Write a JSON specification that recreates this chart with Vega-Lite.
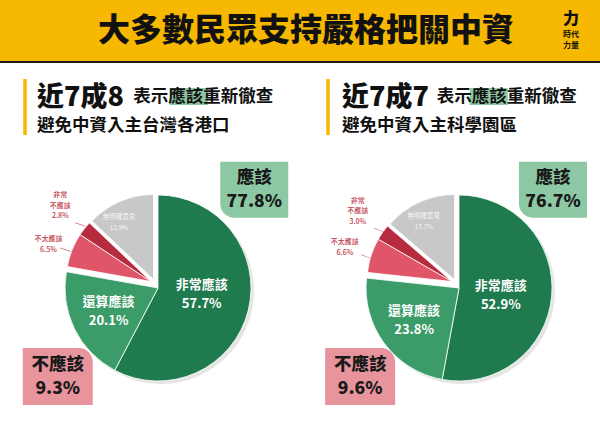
{
  "$schema": "https://vega.github.io/schema/vega-lite/v6.json",
  "padding": 0,
  "background": "#ffffff",
  "spacing": 0,
  "bounds": "flush",
  "config": {"view": {"stroke": null}, "font": "Noto Sans CJK TC"},
  "datasets": {
    "portSlices": [
      {"cat": "非常應該", "pct": 57.7, "k": 1},
      {"cat": "還算應該", "pct": 20.1, "k": 2},
      {"cat": "不太應該", "pct": 6.5, "k": 3},
      {"cat": "非常不應該", "pct": 2.8, "k": 4},
      {"cat": "無明確意見", "pct": 12.9, "k": 5}
    ],
    "portMarks": [
      {"grp": "應該", "yk": "應該", "pct": 77.8},
      {"grp": "不應該", "yk": "不應該", "pct": 9.3},
      {"grp": "hl", "yk": "hl", "txt": "表示應該重新徹查"},
      {"grp": "bar", "yk": "hl"}
    ],
    "sciSlices": [
      {"cat": "非常應該", "pct": 52.9, "k": 1},
      {"cat": "還算應該", "pct": 23.8, "k": 2},
      {"cat": "不太應該", "pct": 6.6, "k": 3},
      {"cat": "非常不應該", "pct": 3.0, "k": 4},
      {"cat": "無明確意見", "pct": 13.7, "k": 5}
    ],
    "sciMarks": [
      {"grp": "應該", "yk": "應該", "pct": 76.7},
      {"grp": "不應該", "yk": "不應該", "pct": 9.6},
      {"grp": "hl", "yk": "hl", "txt": "表示應該重新徹查"},
      {"grp": "bar", "yk": "hl"}
    ]
  },
  "vconcat": [
    {
      "width": 600,
      "height": 61,
      "view": {"fill": "#F6B800", "stroke": null},
      "title": {
        "text": "力",
        "subtitle": ["時代", "力量"],
        "orient": "top",
        "anchor": "end",
        "align": "center",
        "frame": "group",
        "dx": -29,
        "offset": -50,
        "fontSize": 16,
        "fontWeight": 900,
        "color": "#111111",
        "subtitleFontSize": 8,
        "subtitleFontWeight": "bold",
        "subtitleColor": "#111111",
        "subtitlePadding": 4,
        "subtitleLineHeight": 11
      },
      "data": {"values": [{"t": "大多數民眾支持嚴格把關中資"}]},
      "mark": {"type": "text", "fontSize": 32, "fontWeight": 900, "color": "#111111", "dx": 6, "baseline": "middle", "align": "center"},
      "encoding": {"text": {"field": "t", "type": "nominal"}}
    },
    {
      "width": 600,
      "height": 2,
      "view": {"fill": "#1a1a1a", "stroke": null},
      "data": {"values": [{"a": 1}]},
      "mark": {"type": "point", "opacity": 0}
    },
    {
      "spacing": 0,
      "bounds": "flush",
      "hconcat": [
        {
          "width": 300,
          "height": 361,
          "title": {
            "text": "近7成8",
            "subtitle": "避免中資入主台灣各港口",
            "orient": "top",
            "anchor": "start",
            "frame": "group",
            "dx": 37,
            "offset": -72,
            "fontSize": 27,
            "fontWeight": 900,
            "color": "#111111",
            "subtitleFontSize": 17.5,
            "subtitleFontWeight": "bold",
            "subtitleColor": "#111111",
            "subtitlePadding": 5
          },
          "resolve": {"scale": {"color": "independent", "shape": "independent"}},
          "layer": [
            {
              "data": {"name": "portSlices"},
              "encoding": {
                "theta": {"field": "pct", "type": "quantitative", "stack": true},
                "order": {"field": "k", "type": "quantitative"},
                "detail": {"field": "cat", "type": "nominal"}
              },
              "layer": [
                {
                  "mark": {"type": "arc", "radius": 93, "xOffset": 11, "yOffset": 47.5, "color": "#000000"},
                  "encoding": {"opacity": {"condition": {"test": "datum.k <= 2", "value": 0.1}, "value": 0}}
                },
                {
                  "mark": {"type": "arc", "radius": 93, "xOffset": 8, "yOffset": 44.5, "stroke": "#ffffff", "strokeWidth": 0.8},
                  "encoding": {
                    "color": {"field": "cat", "type": "nominal", "legend": null, "scale": {"domain": ["非常應該", "還算應該", "不太應該", "非常不應該", "無明確意見"], "range": ["#1F7A4E", "#3C9C69", "#E05668", "#B62B3D", "#C8C8C8"]}},
                    "opacity": {"condition": {"test": "datum.k <= 2", "value": 1}, "value": 0}
                  }
                },
                {
                  "mark": {"type": "arc", "radius": 85, "xOffset": 1, "yOffset": 38, "stroke": "#ffffff", "strokeWidth": 0.8},
                  "encoding": {
                    "color": {"field": "cat", "type": "nominal", "legend": null},
                    "opacity": {"condition": {"test": "datum.k == 3 || datum.k == 4", "value": 1}, "value": 0}
                  }
                },
                {
                  "mark": {"type": "arc", "radius": 85, "xOffset": 3.5, "yOffset": 36, "stroke": "#ffffff", "strokeWidth": 0.8},
                  "encoding": {
                    "color": {"field": "cat", "type": "nominal", "legend": null},
                    "opacity": {"condition": {"test": "datum.k == 5", "value": 1}, "value": 0}
                  }
                },
                {
                  "mark": {"type": "text", "radius": 45, "dx": 8, "dy": 31.2, "fill": "#ffffff", "fontSize": 13, "fontWeight": "bold", "lineHeight": 19, "align": "center", "baseline": "middle", "text": {"expr": "datum.k == 1 ? [datum.cat, format(datum.pct, '.1f') + '%'] : ''"}}
                },
                {
                  "mark": {"type": "text", "radius": 55, "dx": 8, "dy": 34.8, "fill": "#ffffff", "fontSize": 13, "fontWeight": "bold", "lineHeight": 19, "align": "center", "baseline": "middle", "text": {"expr": "datum.k == 2 ? [datum.cat, format(datum.pct, '.1f') + '%'] : ''"}}
                },
                {
                  "mark": {"type": "text", "radius": 62, "dx": -6.5, "dy": 30.5, "fill": "#f4f4f4", "fontSize": 6.5, "lineHeight": 11, "align": "center", "baseline": "middle", "text": {"expr": "datum.k == 5 ? [datum.cat, format(datum.pct, '.1f') + '%'] : ''"}}
                },
                {
                  "mark": {"type": "text", "radius": 125, "dx": 8, "dy": 29.4, "fill": "#C0394C", "fontSize": 7, "fontWeight": 500, "lineHeight": 10.5, "align": "center", "baseline": "middle", "text": {"expr": "datum.k == 4 ? ['非常', '不應該', format(datum.pct, '.1f') + '%'] : ''"}}
                },
                {
                  "mark": {"type": "text", "radius": 118, "dx": 8, "dy": 39, "fill": "#C0394C", "fontSize": 7, "fontWeight": 500, "lineHeight": 11, "align": "center", "baseline": "middle", "text": {"expr": "datum.k == 3 ? [datum.cat, format(datum.pct, '.1f') + '%'] : ''"}}
                },
                {
                  "mark": {"type": "text", "radius": 100, "dx": 21.4, "dy": 39.8, "angle": 18, "fill": "#C0394C", "fontSize": 11, "align": "center", "baseline": "middle", "text": {"expr": "datum.k == 3 || datum.k == 4 ? '─' : ''"}}
                }
              ]
            },
            {
              "data": {"name": "portMarks"},
              "layer": [
                {
                  "mark": {"type": "point", "filled": true, "opacity": 1, "size": 4624, "strokeWidth": 0},
                  "encoding": {
                    "x": {"field": "grp", "type": "nominal", "axis": null, "scale": {"type": "point", "domain": ["bar", "不應該", "d1", "d2", "d3", "hl", "d4", "應該"], "range": [25, 254.25], "padding": 0}},
                    "y": {"field": "yk", "type": "nominal", "axis": null, "scale": {"type": "point", "domain": ["hl", "應該", "d5", "不應該"], "range": [33.5, 313.5], "padding": 0}},
                    "color": {"field": "grp", "type": "nominal", "legend": null, "scale": {"domain": ["應該", "不應該", "hl", "bar"], "range": ["#8DC8A5", "#E8949D", "#8DC8A5", "#F6B800"]}},
                    "shape": {"field": "grp", "type": "nominal", "legend": null, "scale": {"domain": ["應該", "不應該", "hl", "bar"], "range": [
                      "M-1,-0.824L1,-0.824L1,0.824L-0.588,0.824A0.412,0.412,0,0,1,-1,0.412Z",
                      "M-1.029,-0.838L0.617,-0.838A0.412,0.412,0,0,1,1.029,-0.426L1.029,0.838L-1.029,0.838Z",
                      "M-0.559,-0.25L0.559,-0.25L0.559,0.25L-0.559,0.25Z",
                      "M-0.052,-0.515L0.052,-0.515L0.052,1.132L-0.052,1.132Z"
                    ]}}
                  }
                },
                {
                  "transform": [{"filter": "datum.grp == 'hl'"}],
                  "mark": {"type": "text", "fontSize": 17.5, "fontWeight": "bold", "fill": "#111111", "align": "left", "baseline": "middle", "dx": -55.5},
                  "encoding": {
                    "x": {"field": "grp", "type": "nominal", "axis": null},
                    "y": {"field": "yk", "type": "nominal", "axis": null},
                    "text": {"field": "txt", "type": "nominal"}
                  }
                },
                {
                  "transform": [{"filter": "isValid(datum.pct)"}],
                  "mark": {"type": "text", "fontSize": 17.5, "fontWeight": 900, "fill": "#1a1a1a", "baseline": "middle", "align": "center", "dy": -11.5},
                  "encoding": {
                    "x": {"field": "grp", "type": "nominal", "axis": null},
                    "y": {"field": "yk", "type": "nominal", "axis": null},
                    "text": {"field": "grp", "type": "nominal"}
                  }
                },
                {
                  "transform": [{"filter": "isValid(datum.pct)"}],
                  "mark": {"type": "text", "fontSize": 17.5, "fontWeight": 900, "fill": "#1a1a1a", "baseline": "middle", "align": "center", "dy": 12.5, "text": {"expr": "format(datum.pct, '.1f') + '%'"}},
                  "encoding": {
                    "x": {"field": "grp", "type": "nominal", "axis": null},
                    "y": {"field": "yk", "type": "nominal", "axis": null}
                  }
                }
              ]
            }
          ]
        },
        {
          "width": 300,
          "height": 361,
          "title": {
            "text": "近7成7",
            "subtitle": "避免中資入主科學園區",
            "orient": "top",
            "anchor": "start",
            "frame": "group",
            "dx": 42,
            "offset": -72,
            "fontSize": 27,
            "fontWeight": 900,
            "color": "#111111",
            "subtitleFontSize": 17.5,
            "subtitleFontWeight": "bold",
            "subtitleColor": "#111111",
            "subtitlePadding": 5
          },
          "resolve": {"scale": {"color": "independent", "shape": "independent"}},
          "layer": [
            {
              "data": {"name": "sciSlices"},
              "encoding": {
                "theta": {"field": "pct", "type": "quantitative", "stack": true},
                "order": {"field": "k", "type": "quantitative"},
                "detail": {"field": "cat", "type": "nominal"}
              },
              "layer": [
                {
                  "mark": {"type": "arc", "radius": 93, "xOffset": 12, "yOffset": 47.5, "color": "#000000"},
                  "encoding": {"opacity": {"condition": {"test": "datum.k <= 2", "value": 0.1}, "value": 0}}
                },
                {
                  "mark": {"type": "arc", "radius": 93, "xOffset": 9, "yOffset": 44.5, "stroke": "#ffffff", "strokeWidth": 0.8},
                  "encoding": {
                    "color": {"field": "cat", "type": "nominal", "legend": null, "scale": {"domain": ["非常應該", "還算應該", "不太應該", "非常不應該", "無明確意見"], "range": ["#1F7A4E", "#3C9C69", "#E05668", "#B62B3D", "#C8C8C8"]}},
                    "opacity": {"condition": {"test": "datum.k <= 2", "value": 1}, "value": 0}
                  }
                },
                {
                  "mark": {"type": "arc", "radius": 85, "xOffset": 2, "yOffset": 38, "stroke": "#ffffff", "strokeWidth": 0.8},
                  "encoding": {
                    "color": {"field": "cat", "type": "nominal", "legend": null},
                    "opacity": {"condition": {"test": "datum.k == 3 || datum.k == 4", "value": 1}, "value": 0}
                  }
                },
                {
                  "mark": {"type": "arc", "radius": 85, "xOffset": 4.5, "yOffset": 36, "stroke": "#ffffff", "strokeWidth": 0.8},
                  "encoding": {
                    "color": {"field": "cat", "type": "nominal", "legend": null},
                    "opacity": {"condition": {"test": "datum.k == 5", "value": 1}, "value": 0}
                  }
                },
                {
                  "mark": {"type": "text", "radius": 42, "dx": 9, "dy": 38.2, "fill": "#ffffff", "fontSize": 13, "fontWeight": "bold", "lineHeight": 19, "align": "center", "baseline": "middle", "text": {"expr": "datum.k == 1 ? [datum.cat, format(datum.pct, '.1f') + '%'] : ''"}}
                },
                {
                  "mark": {"type": "text", "radius": 56, "dx": 9, "dy": 34.2, "fill": "#ffffff", "fontSize": 13, "fontWeight": "bold", "lineHeight": 19, "align": "center", "baseline": "middle", "text": {"expr": "datum.k == 2 ? [datum.cat, format(datum.pct, '.1f') + '%'] : ''"}}
                },
                {
                  "mark": {"type": "text", "radius": 64, "dx": 0.5, "dy": 31, "fill": "#f4f4f4", "fontSize": 6.5, "lineHeight": 11, "align": "center", "baseline": "middle", "text": {"expr": "datum.k == 5 ? [datum.cat, format(datum.pct, '.1f') + '%'] : ''"}}
                },
                {
                  "mark": {"type": "text", "radius": 124, "dx": 9, "dy": 29, "fill": "#C0394C", "fontSize": 7, "fontWeight": 500, "lineHeight": 10.5, "align": "center", "baseline": "middle", "text": {"expr": "datum.k == 4 ? ['非常', '不應該', format(datum.pct, '.1f') + '%'] : ''"}}
                },
                {
                  "mark": {"type": "text", "radius": 120, "dx": 9, "dy": 35.2, "fill": "#C0394C", "fontSize": 7, "fontWeight": 500, "lineHeight": 11, "align": "center", "baseline": "middle", "text": {"expr": "datum.k == 3 ? [datum.cat, format(datum.pct, '.1f') + '%'] : ''"}}
                },
                {
                  "mark": {"type": "text", "radius": 98, "dx": 23.7, "dy": 38.7, "angle": 20, "fill": "#C0394C", "fontSize": 11, "align": "center", "baseline": "middle", "text": {"expr": "datum.k == 3 || datum.k == 4 ? '─' : ''"}}
                }
              ]
            },
            {
              "data": {"name": "sciMarks"},
              "layer": [
                {
                  "mark": {"type": "point", "filled": true, "opacity": 1, "size": 4624, "strokeWidth": 0},
                  "encoding": {
                    "x": {"field": "grp", "type": "nominal", "axis": null, "scale": {"type": "point", "domain": ["bar", "不應該", "d1", "d2", "d3", "hl", "d4", "應該"], "range": [28, 253], "padding": 0}},
                    "y": {"field": "yk", "type": "nominal", "axis": null, "scale": {"type": "point", "domain": ["hl", "應該", "d5", "不應該"], "range": [33.5, 313.5], "padding": 0}},
                    "color": {"field": "grp", "type": "nominal", "legend": null, "scale": {"domain": ["應該", "不應該", "hl", "bar"], "range": ["#8DC8A5", "#E8949D", "#8DC8A5", "#F6B800"]}},
                    "shape": {"field": "grp", "type": "nominal", "legend": null, "scale": {"domain": ["應該", "不應該", "hl", "bar"], "range": [
                      "M-1,-0.824L1,-0.824L1,0.824L-0.588,0.824A0.412,0.412,0,0,1,-1,0.412Z",
                      "M-1.029,-0.838L0.617,-0.838A0.412,0.412,0,0,1,1.029,-0.426L1.029,0.838L-1.029,0.838Z",
                      "M-0.559,-0.25L0.559,-0.25L0.559,0.25L-0.559,0.25Z",
                      "M-0.052,-0.515L0.052,-0.515L0.052,1.132L-0.052,1.132Z"
                    ]}}
                  }
                },
                {
                  "transform": [{"filter": "datum.grp == 'hl'"}],
                  "mark": {"type": "text", "fontSize": 17.5, "fontWeight": "bold", "fill": "#111111", "align": "left", "baseline": "middle", "dx": -52},
                  "encoding": {
                    "x": {"field": "grp", "type": "nominal", "axis": null},
                    "y": {"field": "yk", "type": "nominal", "axis": null},
                    "text": {"field": "txt", "type": "nominal"}
                  }
                },
                {
                  "transform": [{"filter": "isValid(datum.pct)"}],
                  "mark": {"type": "text", "fontSize": 17.5, "fontWeight": 900, "fill": "#1a1a1a", "baseline": "middle", "align": "center", "dy": -11.5},
                  "encoding": {
                    "x": {"field": "grp", "type": "nominal", "axis": null},
                    "y": {"field": "yk", "type": "nominal", "axis": null},
                    "text": {"field": "grp", "type": "nominal"}
                  }
                },
                {
                  "transform": [{"filter": "isValid(datum.pct)"}],
                  "mark": {"type": "text", "fontSize": 17.5, "fontWeight": 900, "fill": "#1a1a1a", "baseline": "middle", "align": "center", "dy": 12.5, "text": {"expr": "format(datum.pct, '.1f') + '%'"}},
                  "encoding": {
                    "x": {"field": "grp", "type": "nominal", "axis": null},
                    "y": {"field": "yk", "type": "nominal", "axis": null}
                  }
                }
              ]
            }
          ]
        }
      ]
    }
  ]
}
